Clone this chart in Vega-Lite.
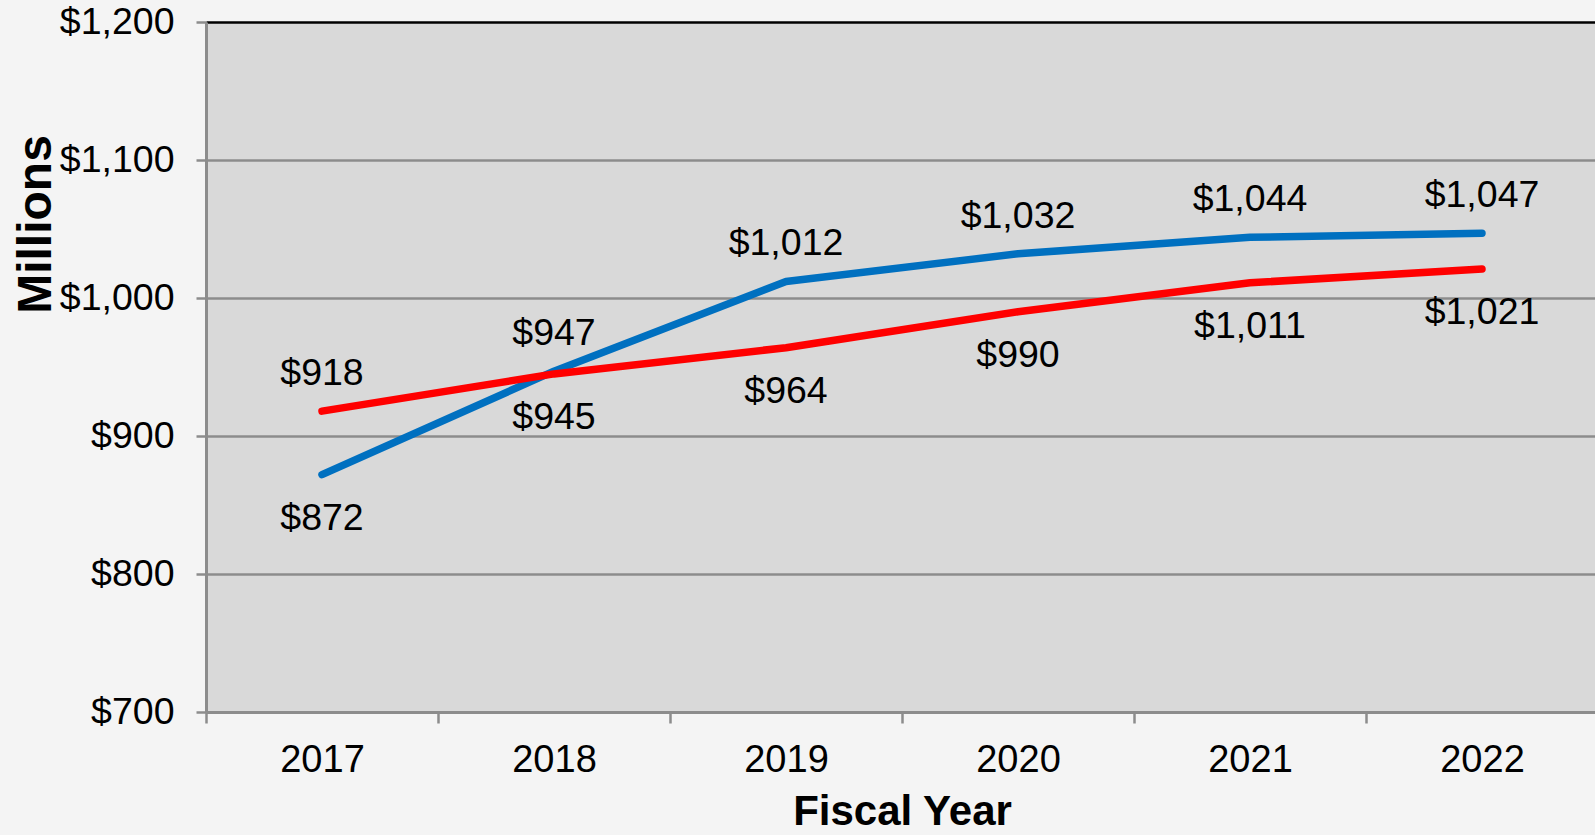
{
  "$schema": "https://vega.github.io/schema/vega-lite/v6.json",
  "width": 1392,
  "height": 690,
  "autosize": {"type": "none"},
  "padding": {"left": 206, "top": 22, "right": 0, "bottom": 123},
  "background": "#f4f4f4",
  "config": {
    "font": "Liberation Sans",
    "view": {"fill": "#d9d9d9", "stroke": null}
  },
  "data": {
    "values": [
      {"year": "2017", "series": "Series 1", "value": 872},
      {"year": "2018", "series": "Series 1", "value": 947},
      {"year": "2019", "series": "Series 1", "value": 1012},
      {"year": "2020", "series": "Series 1", "value": 1032},
      {"year": "2021", "series": "Series 1", "value": 1044},
      {"year": "2022", "series": "Series 1", "value": 1047},
      {"year": "2017", "series": "Series 2", "value": 918},
      {"year": "2018", "series": "Series 2", "value": 945},
      {"year": "2019", "series": "Series 2", "value": 964},
      {"year": "2020", "series": "Series 2", "value": 990},
      {"year": "2021", "series": "Series 2", "value": 1011},
      {"year": "2022", "series": "Series 2", "value": 1021}
    ]
  },
  "encoding": {
    "x": {
      "field": "year",
      "type": "ordinal",
      "scale": {"type": "band", "paddingInner": 0, "paddingOuter": 0},
      "axis": {
        "title": "Fiscal Year",
        "titleFontSize": 42,
        "titleFontWeight": "bold",
        "titleColor": "#000000",
        "titleY": 112,
        "titleBaseline": "alphabetic",
        "labelFontSize": 38,
        "labelColor": "#000000",
        "labelAngle": 0,
        "labelPadding": 18,
        "tickBand": "extent",
        "tickSize": 11,
        "tickWidth": 2.5,
        "tickColor": "#8c8c8c",
        "domainColor": "#8c8c8c",
        "domainWidth": 3,
        "grid": false
      }
    },
    "y": {
      "field": "value",
      "type": "quantitative",
      "scale": {"domain": [700, 1200], "nice": false, "zero": false},
      "axis": {
        "values": [700, 800, 900, 1000, 1100, 1200],
        "format": "$,.0f",
        "title": "Millions",
        "titleFontSize": 48,
        "titleFontWeight": "bold",
        "titleColor": "#000000",
        "titleX": -156,
        "titleY": 202,
        "titleBaseline": "alphabetic",
        "titleAngle": -90,
        "labelFontSize": 37.5,
        "labelColor": "#000000",
        "labelPadding": 22,
        "tickSize": 10,
        "tickWidth": 2.5,
        "tickColor": "#8c8c8c",
        "domainColor": "#8c8c8c",
        "domainWidth": 3,
        "grid": true,
        "gridColor": {"condition": {"test": "datum.value == 1200", "value": "#000000"}, "value": "#8c8c8c"},
        "gridWidth": 2.5,
        "gridOpacity": 1
      }
    }
  },
  "layer": [
    {
      "transform": [{"filter": "datum.series == 'Series 1'"}],
      "mark": {"type": "line", "strokeWidth": 7.5, "strokeCap": "round", "strokeJoin": "round", "color": "#0070C0"},
      "encoding": {}
    },
    {
      "transform": [{"filter": "datum.series == 'Series 2'"}],
      "mark": {"type": "line", "strokeWidth": 7.5, "strokeCap": "round", "strokeJoin": "round", "color": "#FF0000"},
      "encoding": {}
    },
    {
      "transform": [{"filter": "(datum.series == 'Series 1' && datum.year != '2017') || (datum.series == 'Series 2' && datum.year == '2017')"}],
      "mark": {"type": "text", "fontSize": 37.5, "baseline": "middle", "align": "center", "dy": -37, "color": "#000000"},
      "encoding": {"text": {"field": "value", "type": "quantitative", "format": "$,.0f"}}
    },
    {
      "transform": [{"filter": "!((datum.series == 'Series 1' && datum.year != '2017') || (datum.series == 'Series 2' && datum.year == '2017'))"}],
      "mark": {"type": "text", "fontSize": 37.5, "baseline": "middle", "align": "center", "dy": 44, "color": "#000000"},
      "encoding": {"text": {"field": "value", "type": "quantitative", "format": "$,.0f"}}
    }
  ]
}
